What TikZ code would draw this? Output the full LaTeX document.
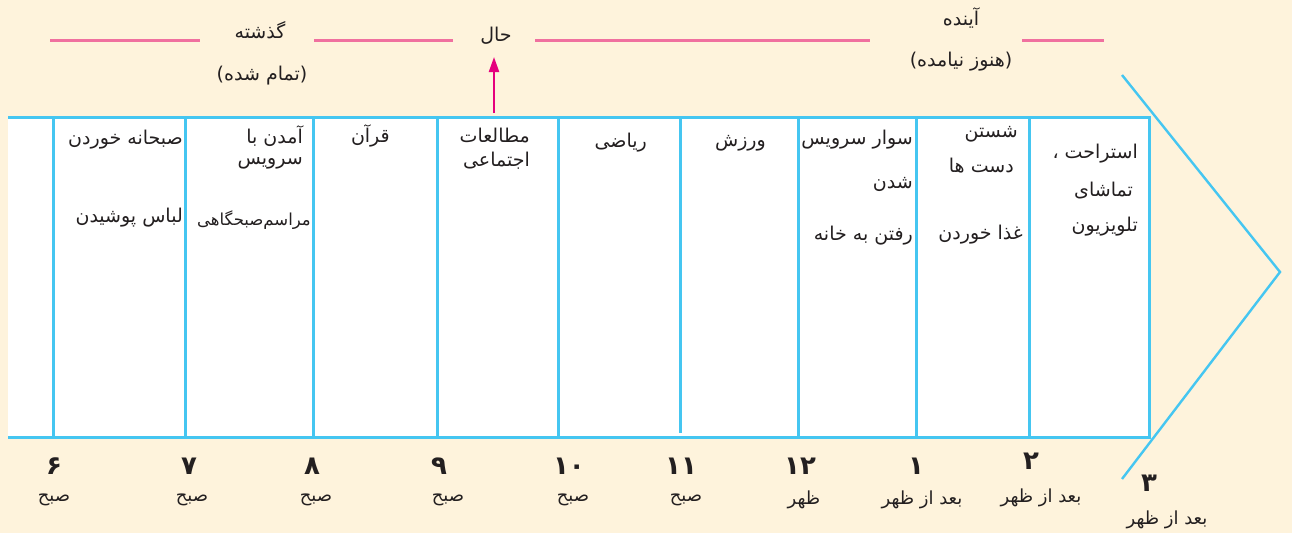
\documentclass[tikz,border=0pt]{standalone}
\usepackage{fontspec}
\usetikzlibrary{arrows.meta}
\TeXXeTstate=1
\newfontfamily\arabicfont[Script=Arabic]{DejaVu Sans}
\newcommand{\fa}[1]{{\arabicfont\beginR #1\endR}}
\definecolor{bgcream}{HTML}{FEF3DC}
\definecolor{lineblue}{HTML}{45C6F1}
\definecolor{linepink}{HTML}{F0709F}
\definecolor{arrowmag}{HTML}{E5007D}
\definecolor{inktext}{HTML}{231F20}
\tikzset{
  cellline/.style={draw=lineblue, line width=3pt},
  pinkline/.style={draw=linepink, line width=3pt},
  celltext/.style={anchor=east, inner sep=0pt, yshift=-3pt, text=inktext, font=\arabicfont\fontsize{19}{21}\selectfont},
  smalltext/.style={anchor=east, inner sep=0pt, yshift=-3pt, text=inktext, font=\arabicfont\fontsize{16.5}{18}\selectfont},
  toptext/.style={inner sep=0pt, text=inktext, font=\arabicfont\fontsize{19}{21}\selectfont},
  numtext/.style={inner sep=0pt, text=inktext, font=\arabicfont\bfseries\fontsize{26}{28}\selectfont},
  timetext/.style={inner sep=0pt, yshift=-3pt, text=inktext, font=\arabicfont\fontsize{18}{20}\selectfont},
}
\begin{document}
\begin{tikzpicture}[x=1pt,y=-1pt]
\fill[bgcream] (0,0) rectangle (1292,533);
\useasboundingbox (0,0) rectangle (1292,533);
% timeline box
\fill[white] (8,117) rectangle (1149,437);
\draw[cellline] (8,117) -- (1149,117) -- (1149,437) -- (8,437);
\foreach \x in {53,185,313,437,558,798,916,1029}
  \draw[cellline] (\x,117) -- (\x,437);
\draw[cellline] (680,117) -- (680,433);
% chevron
\coordinate (chtop) at (1122,75);
\coordinate (chtip) at (1280,272);
\coordinate (chbot) at (1122,479);
\draw[draw=lineblue, line width=2.4pt] (chtop) -- (chtip) -- (chbot);
% top labels
\draw[pinkline] (50,40) -- (200,40);
\draw[pinkline] (314,40) -- (453,40);
\draw[pinkline] (535,40) -- (870,40);
\draw[pinkline] (1022,40) -- (1104,40);
\node[toptext] (past) at (260,30) {\fa{گذشته}};
\node[toptext] (pastsub) at (262,76) {\fa{(تمام شده)}};
\node[toptext] (hal) at (496,36) {\fa{حال}};
\node[toptext] (future) at (961,18) {\fa{آینده}};
\node[toptext] (futuresub) at (961,62) {\fa{(هنوز نیامده)}};
\coordinate (arrowfoot) at (494,113);
\coordinate (arrowtip) at (494,57);
\draw[draw=arrowmag, line width=2.2pt, -{Triangle[width=10pt,length=15pt]}] (arrowfoot) -- (arrowtip);
% cell texts
\node[celltext] (c1a) at (183,137) {\fa{صبحانه خوردن}};
\node[celltext] (c1b) at (183,215) {\fa{لباس پوشیدن}};
\node[celltext] (c2a) at (303,133) {\fa{آمدن با}};
\node[celltext] (c2b) at (303,160) {\fa{سرویس}};
\node[smalltext] (c2c) at (311,217) {\fa{مراسم‌صبحگاهی}};
\node[celltext] (c3a) at (390,133) {\fa{قرآن}};
\node[celltext] (c4a) at (530,133) {\fa{مطالعات}};
\node[celltext] (c4b) at (530,158) {\fa{اجتماعی}};
\node[celltext] (c5a) at (647,140) {\fa{ریاضی}};
\node[celltext] (c6a) at (766,140) {\fa{ورزش}};
\node[celltext] (c7a) at (913,137) {\fa{سوار سرویس}};
\node[celltext] (c7b) at (913,181) {\fa{شدن}};
\node[celltext] (c7c) at (913,233) {\fa{رفتن به خانه}};
\node[celltext] (c8a) at (1018,131) {\fa{شستن}};
\node[celltext] (c8b) at (1014,163) {\fa{دست ها}};
\node[celltext] (c8c) at (1023,232) {\fa{غذا خوردن}};
\node[celltext] (c9a) at (1138,151) {\fa{استراحت ،}};
\node[celltext] (c9b) at (1133,188) {\fa{تماشای}};
\node[celltext] (c9c) at (1138,224) {\fa{تلویزیون}};
% time labels
\node[numtext] (n6) at (54,466) {۶};
\node[timetext] (t6) at (54,497) {\fa{صبح}};
\node[numtext] (n7) at (189,466) {۷};
\node[timetext] (t7) at (192,497) {\fa{صبح}};
\node[numtext] (n8) at (312,466) {۸};
\node[timetext] (t8) at (316,497) {\fa{صبح}};
\node[numtext] (n9) at (439,466) {۹};
\node[timetext] (t9) at (448,497) {\fa{صبح}};
\node[numtext] (n10) at (569,466) {۱۰};
\node[timetext] (t10) at (573,497) {\fa{صبح}};
\node[numtext] (n11) at (681,466) {۱۱};
\node[timetext] (t11) at (686,497) {\fa{صبح}};
\node[numtext] (n12) at (800,466) {۱۲};
\node[timetext] (t12) at (804,497) {\fa{ظهر}};
\node[numtext] (n1) at (916,466) {۱};
\node[timetext] (t1) at (922,497) {\fa{بعد از ظهر}};
\node[numtext] (n2) at (1031,461) {۲};
\node[timetext] (t2) at (1041,495) {\fa{بعد از ظهر}};
\node[numtext] (n3) at (1149,483) {۳};
\node[timetext] (t3) at (1167,517) {\fa{بعد از ظهر}};
\end{tikzpicture}
\end{document}
